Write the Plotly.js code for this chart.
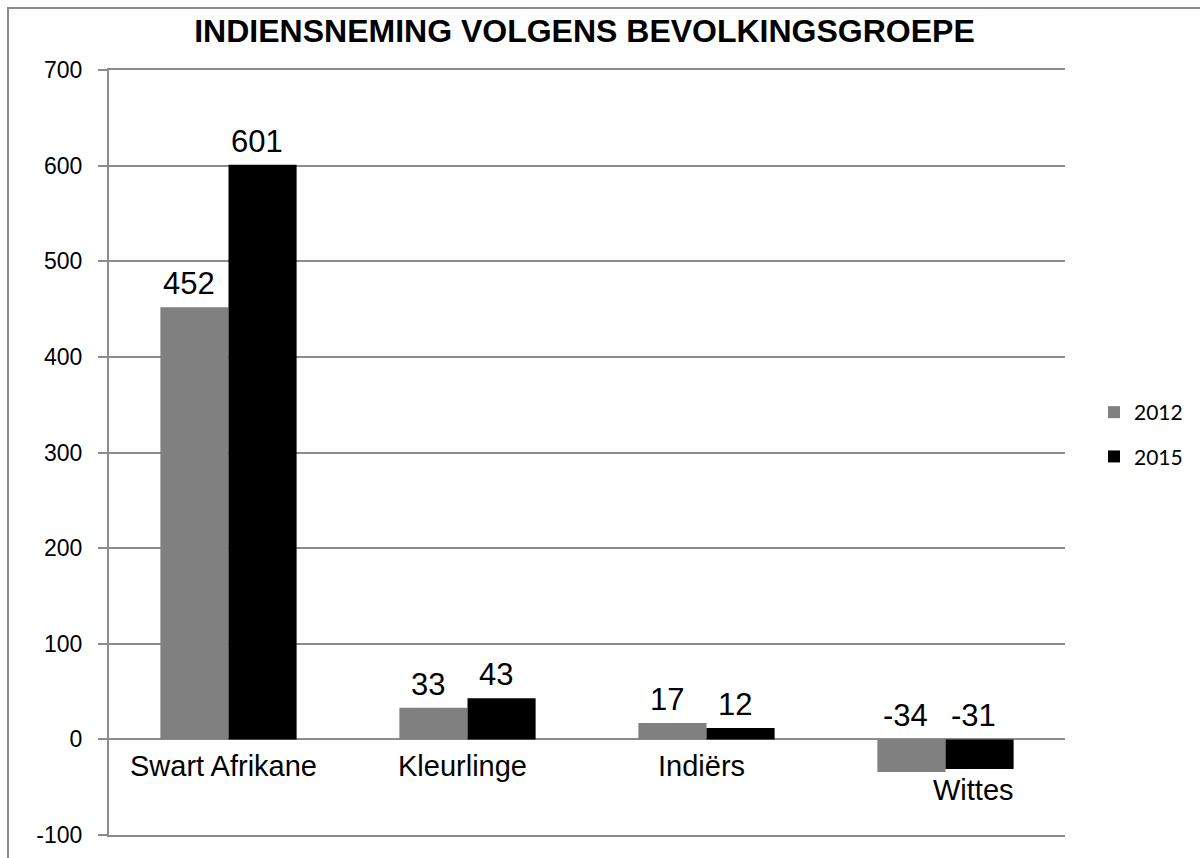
<!DOCTYPE html>
<html>
<head>
<meta charset="utf-8">
<script src="https://cdn.plot.ly/plotly-3.0.1.min.js"></script>
<style>
html,body{margin:0;padding:0;background:#fff;}
#chart{width:1200px;height:858px;}
</style>
</head>
<body>
<div id="chart"></div>
<script>
const categories = ["Swart Afrikane", "Kleurlinge", "Indiërs", "Wittes"];
const seriesNames = ["2012", "2015"];
const values2012 = [452, 33, 17, -34];
const values2015 = [601, 43, 12, -31];
const yTickVals = [-100, 0, 100, 200, 300, 400, 500, 600, 700];
const chartTitle = "INDIENSNEMING VOLGENS BEVOLKINGSGROEPE";

const FONT = "Liberation Sans, Arial, sans-serif";
const colors = ["#808080", "#000000"];
const allSeries = [values2012, values2015];

const traces = allSeries.map((vals, i) => ({
  type: "bar",
  name: seriesNames[i],
  x: categories,
  y: vals,
  marker: {color: colors[i], line: {width: 0}},
  legendgroup: "g" + i,
  hoverinfo: "x+y+name"
}));

const annotations = [];
// data labels
allSeries.forEach((vals, i) => {
  vals.forEach((v, j) => {
    annotations.push({
      x: categories[j], y: Math.max(v, 0), xref: "x", yref: "y",
      text: String(v), showarrow: false,
      xanchor: "center", yanchor: "bottom",
      xshift: (i === 0 ? -34 : 34) - 6, yshift: 4,
      font: {family: FONT, size: 31, color: "#000"}
    });
  });
});
// category labels
categories.forEach((c, j) => {
  const minV = Math.min(values2012[j], values2015[j], 0);
  annotations.push({
    x: c, y: minV, xref: "x", yref: "y",
    text: c, showarrow: false,
    xanchor: "center", yanchor: "top",
    xshift: minV < 0 ? 28 : -5, yshift: minV < 0 ? 0 : -9,
    font: {family: FONT, size: 29, color: "#000"}
  });
});

const plotL = 109, plotR = 1065, plotT = 70, plotB = 835;
const pw = plotR - plotL, ph = plotB - plotT;
const GRID = "#8c8c8c";

const layout = {
  width: 1200, height: 858,
  margin: {l: plotL, r: 1200 - plotR, t: plotT, b: 858 - plotB, pad: 0},
  paper_bgcolor: "#fff", plot_bgcolor: "#fff",
  font: {family: FONT, color: "#000"},
  title: {
    text: "<b>" + chartTitle + "</b>",
    font: {family: FONT, size: 32, color: "#000"},
    x: 584.5 / 1200, xref: "container", xanchor: "center",
    y: 1 - 20 / 858, yref: "container", yanchor: "top"
  },
  barmode: "group",
  bargap: 0.43,
  bargroupgap: 0,
  xaxis: {
    type: "category",
    showticklabels: false,
    showgrid: false,
    zeroline: false,
    showline: true, mirror: true, linecolor: GRID, linewidth: 2,
    ticks: "",
    fixedrange: true
  },
  yaxis: {
    range: [-100, 700],
    tickvals: yTickVals,
    ticktext: yTickVals.map(String),
    showgrid: true, gridcolor: GRID, gridwidth: 2,
    zeroline: true, zerolinecolor: GRID, zerolinewidth: 2,
    showline: true, linecolor: GRID, linewidth: 2,
    ticks: "outside", ticklen: 9, tickcolor: GRID, tickwidth: 2,
    tickfont: {family: FONT, size: 23, color: "#000"},
    ticklabelstandoff: 11,
    fixedrange: true
  },
  showlegend: true,
  legend: {
    x: (1094 - plotL) / pw, xanchor: "left",
    y: (plotB - 392) / ph, yanchor: "top",
    font: {family: "Lato, Carlito, sans-serif", size: 21, color: "#000"},
    traceorder: "grouped",
    tracegroupgap: 14,
    bgcolor: "rgba(0,0,0,0)",
    itemwidth: 30
  },
  annotations: annotations,
  shapes: [{
    type: "rect", xref: "paper", yref: "paper",
    x0: (8 - plotL) / pw, x1: (1210 - plotL) / pw,
    y0: (plotB - 870) / ph, y1: (plotB - 8) / ph,
    line: {color: GRID, width: 2}, fillcolor: "rgba(0,0,0,0)",
    layer: "below"
  }]
};

Plotly.newPlot("chart", traces, layout, {displayModeBar: false, staticPlot: true});
</script>
</body>
</html>
